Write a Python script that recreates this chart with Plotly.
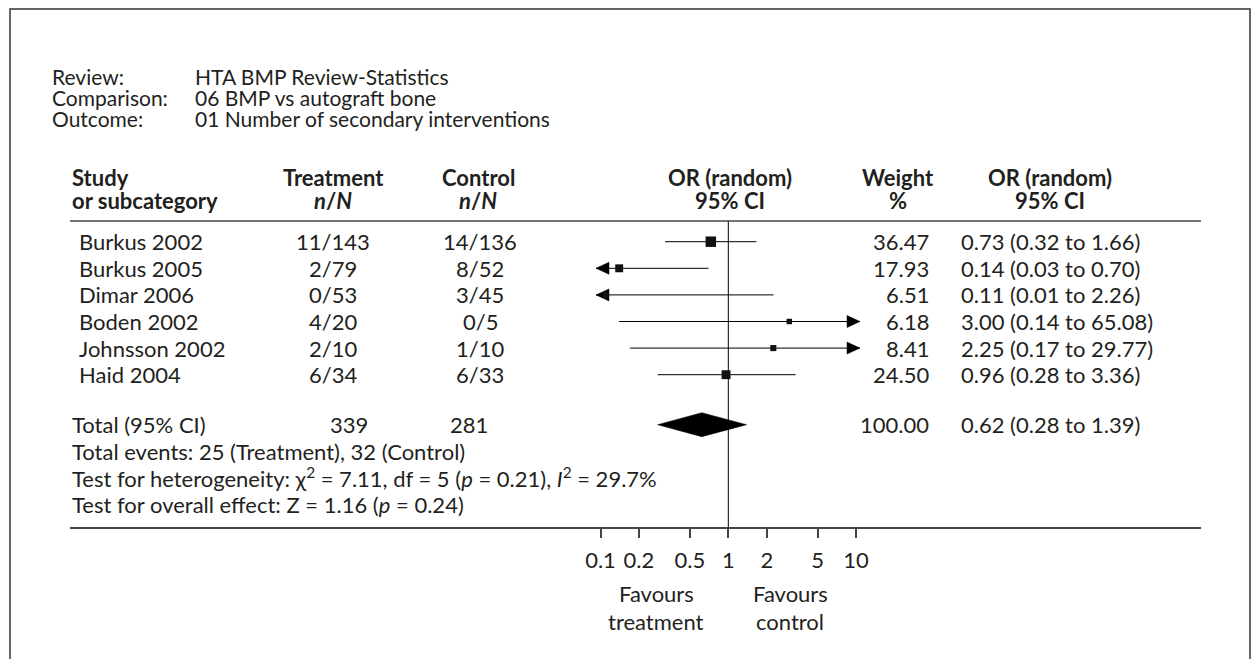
import math
import plotly.graph_objects as go

# ---- Meta-analysis data -------------------------------------------------
studies = ["Burkus 2002", "Burkus 2005", "Dimar 2006", "Boden 2002",
           "Johnsson 2002", "Haid 2004"]
treat_events = [11, 2, 0, 4, 2, 6]
treat_total = [143, 79, 53, 20, 10, 34]
ctrl_events = [14, 8, 3, 0, 1, 6]
ctrl_total = [136, 52, 45, 5, 10, 33]
odds_ratio = [0.73, 0.14, 0.11, 3.00, 2.25, 0.96]
ci_low = [0.32, 0.03, 0.01, 0.14, 0.17, 0.28]
ci_high = [1.66, 0.70, 2.26, 65.08, 29.77, 3.36]
weight_pct = [36.47, 17.93, 6.51, 6.18, 8.41, 24.50]

pooled_or = 0.62
pooled_low = 0.28
pooled_high = 1.39
pooled_weight = 100.00
total_treat = 339
total_ctrl = 281
events_treat = 25
events_ctrl = 32
chi2, df_het, p_het, i2 = 7.11, 5, 0.21, 29.7
z_val, p_z = 1.16, 0.24

tick_vals = [0.1, 0.2, 0.5, 1, 2, 5, 10]
tick_text = ["0.1", "0.2", "0.5", "1", "2", "5", "10"]

header_info = [("Review:", "HTA BMP Review-Statistics"),
               ("Comparison:", "06 BMP vs autograft bone"),
               ("Outcome:", "01 Number of secondary interventions")]

# ---- Layout constants (pixels) -----------------------------------------
W, H = 1259, 659
FONT = "Lato"
FS = 22          # table body
FS_HEAD = 22     # bold column headings
FS_TOP = 21      # review / comparison / outcome block
INK = "#231f20"
RULE = "#444444"

ONE_PX = 728.3          # pixel column of OR = 1
DECADE_PX = 127.8       # pixels per factor of ten
LINE_L, LINE_R = 70, 1201
HEAD_RULE_Y = 221
AXIS_Y = 528
ROW0_Y = 241.7
ROW_H = 26.6
TOTAL_GAP = 50
SUM_H = 26.5
TOP_Y0, TOP_H = 76, 21
VIEW_LO_PX, VIEW_HI_PX = 596, 860   # arrow tips of clipped intervals
ARROW_LEN, ARROW_HALF = 13, 6
DIA_HALF = 12


def px_to_or(px):
    return 10 ** ((px - ONE_PX) / DECADE_PX)


def fx(px):
    return px / W


view_lo, view_hi = px_to_or(VIEW_LO_PX), px_to_or(VIEW_HI_PX)

fig = go.Figure()
shapes = []
annotations = []


def text(x, y, s, anchor="left", bold=False, size=FS):
    if bold:
        s = "<b>" + s + "</b>"
    annotations.append(dict(x=fx(x), y=y, xref="paper", yref="y", text=s,
                            showarrow=False, xanchor=anchor, yanchor="middle",
                            font=dict(family=FONT, size=size, color=INK)))


def arrow(tip, base, y):
    fig.add_trace(go.Scatter(x=[tip, base, base, tip],
                             y=[y, y - ARROW_HALF, y + ARROW_HALF, y],
                             mode="lines", fill="toself", fillcolor="black",
                             line=dict(color="black", width=0.5),
                             hoverinfo="skip", showlegend=False))


# ---- Study rows ----------------------------------------------------------
for i, name in enumerate(studies):
    y = ROW0_Y + i * ROW_H
    lo = max(ci_low[i], view_lo)
    hi = min(ci_high[i], view_hi)
    fig.add_trace(go.Scatter(x=[lo, hi], y=[y, y], mode="lines",
                             line=dict(color="black", width=1),
                             hoverinfo="skip", showlegend=False))
    if ci_low[i] < view_lo:
        arrow(view_lo, px_to_or(VIEW_LO_PX + ARROW_LEN), y)
    if ci_high[i] > view_hi:
        arrow(view_hi, px_to_or(VIEW_HI_PX - ARROW_LEN), y)
    fig.add_trace(go.Scatter(x=[odds_ratio[i]], y=[y], mode="markers",
                             marker=dict(symbol="square", color="#111111",
                                         size=2 + 1.4 * math.sqrt(weight_pct[i]),
                                         line=dict(width=0)),
                             hoverinfo="skip", showlegend=False))

    text(77, y, name)
    text(333, y, f"{treat_events[i]}/{treat_total[i]}", anchor="center")
    text(480, y, f"{ctrl_events[i]}/{ctrl_total[i]}", anchor="center")
    text(931, y, f"{weight_pct[i]:.2f}", anchor="right")
    text(959, y, f"{odds_ratio[i]:.2f} ({ci_low[i]:.2f} to {ci_high[i]:.2f})")

# ---- Pooled estimate -----------------------------------------------------
tot_y = ROW0_Y + (len(studies) - 1) * ROW_H + TOTAL_GAP
fig.add_trace(go.Scatter(x=[pooled_low, pooled_or, pooled_high, pooled_or, pooled_low],
                         y=[tot_y, tot_y - DIA_HALF, tot_y, tot_y + DIA_HALF, tot_y],
                         mode="lines", fill="toself", fillcolor="black",
                         line=dict(color="black", width=0.5),
                         hoverinfo="skip", showlegend=False))
text(70, tot_y, "Total (95% CI)")
text(349, tot_y, f"{total_treat}", anchor="center")
text(469, tot_y, f"{total_ctrl}", anchor="center")
text(931, tot_y, f"{pooled_weight:.2f}", anchor="right")
text(959, tot_y, f"{pooled_or:.2f} ({pooled_low:.2f} to {pooled_high:.2f})")

text(70, tot_y + SUM_H,
     f"Total events: {events_treat} (Treatment), {events_ctrl} (Control)")
text(70, tot_y + 2 * SUM_H,
     f"Test for heterogeneity: χ<sup>2</sup> = {chi2:.2f}, df = {df_het} "
     f"(<i>p</i> = {p_het:.2f}), <i>I</i><sup>2</sup> = {i2:.1f}%")
text(70, tot_y + 3 * SUM_H,
     f"Test for overall effect: Z = {z_val:.2f} (<i>p</i> = {p_z:.2f})")

# ---- Title block and column headers ---------------------------------------
for k, (lab, val) in enumerate(header_info):
    yy = TOP_Y0 + k * TOP_H
    text(50, yy, lab, size=FS_TOP)
    text(193, yy, val, size=FS_TOP)

H1, H2 = 177, 200
heads = [(70, "left", "Study", "or subcategory"),
         (333, "center", "Treatment", "<i>n</i>/<i>N</i>"),
         (478, "center", "Control", "<i>n</i>/<i>N</i>"),
         (730, "center", "OR (random)", "95% CI"),
         (898, "center", "Weight", "%"),
         (1050, "center", "OR (random)", "95% CI")]
for hx, anc, top, bottom in heads:
    text(hx, H1, top, anchor=anc, bold=True, size=FS_HEAD)
    text(hx, H2, bottom, anchor=anc, bold=True, size=FS_HEAD)

# favours labels under the axis
text(656, 593, "Favours", anchor="center")
text(656, 621, "treatment", anchor="center")
text(790, 593, "Favours", anchor="center")
text(790, 621, "control", anchor="center")

# ---- Rules, reference line and frame --------------------------------------
shapes.append(dict(type="line", xref="paper", yref="y", x0=fx(LINE_L), x1=fx(LINE_R),
                   y0=HEAD_RULE_Y, y1=HEAD_RULE_Y, line=dict(color=RULE, width=1.5)))
shapes.append(dict(type="line", xref="x", yref="y", x0=1, x1=1,
                   y0=HEAD_RULE_Y, y1=AXIS_Y, layer="below",
                   line=dict(color="black", width=1)))
shapes.append(dict(type="rect", xref="paper", yref="y", x0=fx(10), x1=fx(1250),
                   y0=9, y1=H + 20, line=dict(color="#333333", width=1.5)))

x_range = [(LINE_L - ONE_PX) / DECADE_PX, (LINE_R - ONE_PX) / DECADE_PX]

fig.update_layout(
    width=W, height=H,
    margin=dict(l=0, r=0, t=0, b=0),
    paper_bgcolor="white", plot_bgcolor="white",
    showlegend=False,
    shapes=shapes, annotations=annotations,
    xaxis=dict(type="log", range=x_range, domain=[fx(LINE_L), fx(LINE_R)],
               anchor="free", position=(H - AXIS_Y) / H,
               tickvals=tick_vals, ticktext=tick_text,
               ticks="outside", ticklen=9, tickwidth=1.5, tickcolor=RULE,
               ticklabelstandoff=4,
               showline=True, linecolor=RULE, linewidth=1.5,
               showgrid=False, zeroline=False,
               tickfont=dict(family=FONT, size=FS, color=INK)),
    yaxis=dict(range=[H, 0], domain=[0, 1], visible=False,
               showgrid=False, zeroline=False),
)

fig.write_html("out.html", config={"displayModeBar": False})
